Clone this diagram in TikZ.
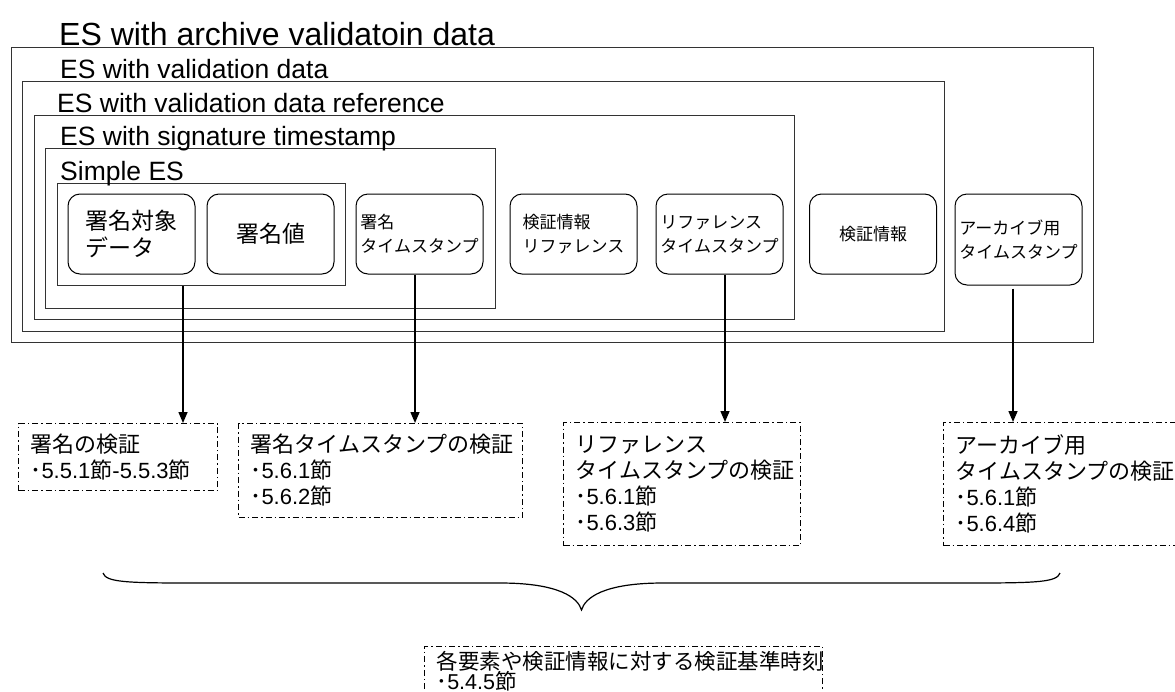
\documentclass[tikz,border=0pt]{standalone}
\usepackage{fontspec}
\setmainfont{Liberation Sans}
\newfontfamily\jpfont{Noto Sans CJK JP}
\usetikzlibrary{arrows.meta}
\newcommand{\setsu}[1]{･{\rmfamily #1}節}

\begin{document}
\begin{tikzpicture}[x=1pt,y=-1pt,
    frame/.style={draw=black!80, line width=1.3pt, anchor=north west, inner sep=0pt},
    lvl/.style={anchor=base west, inner sep=0pt, font=\fontsize{26.5}{30}\selectfont},
    elem/.style={draw, line width=1pt, rounded corners=12pt, minimum width=127pt,
        minimum height=80pt, align=left, inner sep=2pt, font=\jpfont\fontsize{23}{27}\selectfont},
    elemsm/.style={elem, font=\jpfont\fontsize{17}{24}\selectfont},
    chk/.style={draw, line width=1pt, dash pattern=on 6pt off 3pt on 1.5pt off 3pt,
        anchor=north west, align=left, inner xsep=12pt, inner ysep=4pt,
        font=\jpfont\fontsize{22}{26}\selectfont},
    arr/.style={line width=1.5pt, -{Triangle[length=11pt,width=9pt]}}]

    \clip (0,0) rectangle (1175,691);

    % Nested frames, outermost first
    \node[frame, minimum width=1082pt, minimum height=295pt] (arch) at (11,47) {};
    \node[frame, minimum width=922pt, minimum height=250pt] (vdata) at (22,81) {};
    \node[frame, minimum width=760pt, minimum height=204pt] (vref) at (34,115) {};
    \node[frame, minimum width=450pt, minimum height=160pt] (sigts) at (45,148) {};
    \node[frame, minimum width=288pt, minimum height=102pt] (simple) at (57,183) {};

    % Frame titles
    \node[lvl, font=\fontsize{32}{38}\selectfont] (t-arch) at (59,45) {ES with archive validatoin data};
    \node[lvl] (t-vdata) at (60,78) {ES with validation data};
    \node[lvl] (t-vref) at (57,112) {ES with validation data reference};
    \node[lvl] (t-sigts) at (60,145) {ES with signature timestamp};
    \node[lvl] (t-simple) at (60,180) {Simple ES};

    % Elements
    \node[elem] (tgt) at (131.5,234) {署名対象\\データ};
    \node[elem] (sval) at (270.5,234) {署名値};
    \node[elemsm] (sts) at (419.5,234) {署名\\タイムスタンプ};
    \node[elemsm] (vrefe) at (573.5,234) {検証情報\\リファレンス};
    \node[elemsm] (rts) at (719.5,234) {リファレンス\\タイムスタンプ};
    \node[elemsm] (vinfo) at (873,234) {検証情報};
    \node[elemsm, minimum height=91pt] (ats) at (1018.5,239.5) {アーカイブ用\\タイムスタンプ};

    % Validation steps
    \node[chk, text width=175pt, minimum height=67pt] (c-sig) at (18,423) {署名の検証\\･{\rmfamily 5.5.1}節{\rmfamily -5.5.3}節};
    \node[chk, text width=260pt, minimum height=94pt] (c-sts) at (238,423) {署名タイムスタンプの検証\\\setsu{5.6.1}\\\setsu{5.6.2}};
    \node[chk, text width=213pt, minimum height=123pt] (c-rts) at (563,422) {リファレンス\\タイムスタンプの検証\\\setsu{5.6.1}\\\setsu{5.6.3}};
    \node[chk, text width=260pt, minimum height=123pt] (c-ats) at (943,422) {アーカイブ用\\タイムスタンプの検証\\\setsu{5.6.1}\\\setsu{5.6.4}};
    \node[chk, text width=374pt, inner ysep=5pt, text depth=30pt,
        font=\jpfont\fontsize{21.5}{20}\selectfont] (c-time) at (424,646) {各要素や検証情報に対する検証基準時刻\\\setsu{5.4.5}};

    % Arrows
    \coordinate (p-sig) at (183,0);
    \coordinate (p-sts) at (415,0);
    \coordinate (p-rts) at (725,0);
    \coordinate (p-ats) at (1013,0);
    \draw[arr] (simple.south -| p-sig) -- (c-sig.north -| p-sig);
    \draw[arr] (sts.south -| p-sts) -- (c-sts.north -| p-sts);
    \draw[arr] (rts.south -| p-rts) -- (c-rts.north -| p-rts);
    \draw[arr] ([yshift=-3pt]ats.south -| p-ats) -- (c-ats.north -| p-ats);

    % Brace
    \draw[line width=1.2pt] (103,573) .. controls (106,582) and (125,583) .. (190,583) -- (500,583)
        .. controls (560,583) and (578,598) .. (581.5,610)
        .. controls (585,598) and (603,583) .. (663,583) -- (973,583)
        .. controls (1038,583) and (1057,582) .. (1060,573);

\end{tikzpicture}
\end{document}
